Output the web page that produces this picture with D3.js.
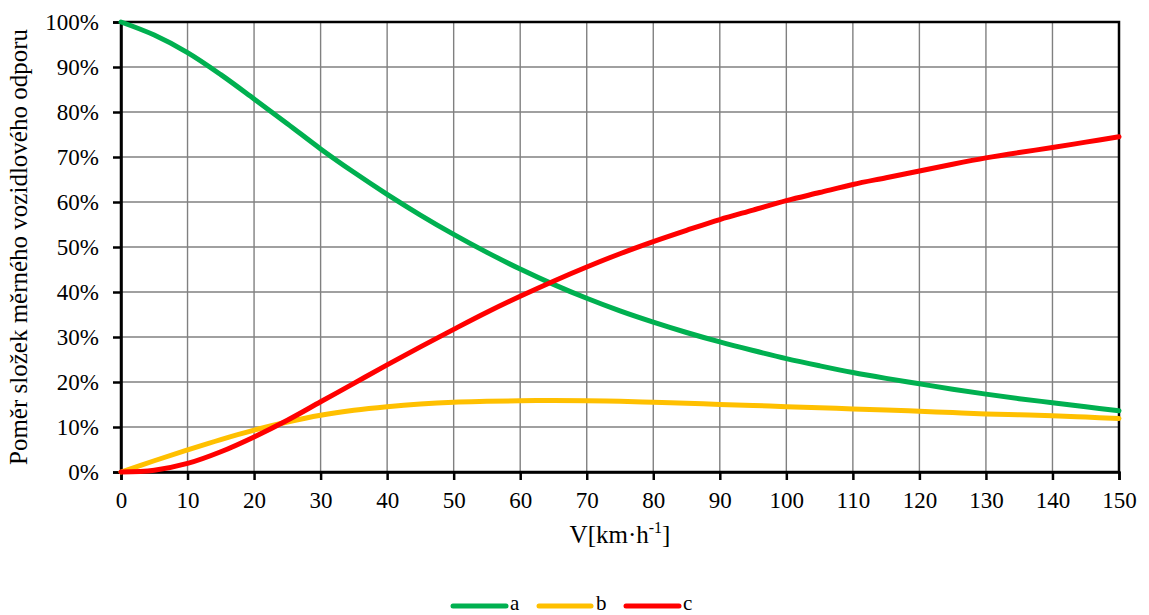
<!DOCTYPE html>
<html>
<head>
<meta charset="utf-8">
<script src="https://cdn.jsdelivr.net/npm/d3@7"></script>
<style>
  html, body { margin: 0; padding: 0; background: #fff; }
</style>
</head>
<body>
<svg id="chart" width="1149" height="615"></svg>
<script>
// Speed V [km/h]
const speeds = [0, 5, 10, 15, 20, 25, 30, 35, 40, 45, 50, 55, 60, 65, 70, 75,
                80, 85, 90, 95, 100, 105, 110, 115, 120, 125, 130, 135, 140, 145, 150];
// Share of each resistance component [%]
const seriesA = [100, 97.1, 93.2, 88.3, 82.9, 77.4, 71.8, 66.6, 61.7, 57.1, 52.8, 48.8, 45.1, 41.7, 38.6, 35.8,
                 33.3, 31.0, 28.9, 27.0, 25.2, 23.6, 22.1, 20.8, 19.6, 18.4, 17.3, 16.3, 15.4, 14.5, 13.6];
const seriesB = [0, 2.5, 4.9, 7.2, 9.3, 11.1, 12.6, 13.7, 14.5, 15.1, 15.5, 15.7, 15.85, 15.9, 15.85, 15.7,
                 15.5, 15.3, 15.0, 14.8, 14.5, 14.3, 14.0, 13.8, 13.5, 13.2, 12.9, 12.7, 12.5, 12.2, 11.9];
const seriesC = [0, 0.4, 1.9, 4.5, 7.8, 11.5, 15.6, 19.7, 23.8, 27.8, 31.7, 35.5, 39.05, 42.4, 45.55, 48.5,
                 51.2, 53.7, 56.1, 58.2, 60.3, 62.1, 63.9, 65.4, 66.9, 68.4, 69.8, 71.0, 72.1, 73.3, 74.5];
const seriesNames = ["a", "b", "c"];
const seriesColors = ["#00B050", "#FFC000", "#FF0000"];
const xTicks = d3.range(0, 151, 10);
const yTicks = d3.range(0, 101, 10);

const FONT = "Liberation Serif, Times New Roman, serif";

const svg = d3.select("#chart").attr("font-family", FONT);
const margin = { left: 121, right: 30, top: 22, bottom: 143 };
const W = 1149, H = 615;
const x = d3.scaleLinear().domain([0, 150]).range([margin.left, W - margin.right]);
const y = d3.scaleLinear().domain([0, 100]).range([H - margin.bottom, margin.top]);

// Grid
const grid = svg.append("g").attr("stroke", "#808080").attr("stroke-width", 1.4);
grid.selectAll("line.v").data(xTicks.slice(1, -1)).join("line")
  .attr("x1", d => x(d)).attr("x2", d => x(d))
  .attr("y1", y(0)).attr("y2", y(100));
grid.selectAll("line.h").data(yTicks.slice(1, -1)).join("line")
  .attr("x1", x(0)).attr("x2", x(150))
  .attr("y1", d => y(d)).attr("y2", d => y(d));

// Plot border (top, right)
svg.append("rect")
  .attr("x", x(0)).attr("y", y(100))
  .attr("width", x(150) - x(0)).attr("height", y(0) - y(100))
  .attr("fill", "none").attr("stroke", "#000").attr("stroke-width", 2.5);

// Axes
const xAxis = d3.axisBottom(x).tickValues(xTicks).tickSize(8).tickPadding(12).tickFormat(d3.format("d"));
const yAxis = d3.axisLeft(y).tickValues(yTicks).tickSize(8).tickPadding(14).tickFormat(d => d + "%");

const gx = svg.append("g").attr("transform", `translate(0,${y(0)})`).call(xAxis);
const gy = svg.append("g").attr("transform", `translate(${x(0)},0)`).call(yAxis);
[gx, gy].forEach(g => {
  g.attr("font-family", FONT).attr("font-size", 23);
  g.select(".domain").attr("stroke", "#000").attr("stroke-width", 2.5);
  g.selectAll(".tick line").attr("stroke", "#000").attr("stroke-width", 2.5);
  g.selectAll(".tick text")
    .attr("fill", "#000")
    .attr("font-family", FONT)
    .attr("font-size", 23);
});
gy.selectAll(".tick text").attr("dy", "0.33em");

// Series lines
const series = [seriesA, seriesB, seriesC];
const line = d3.line()
  .x((d, i) => x(speeds[i]))
  .y(d => y(d))
  .curve(d3.curveCatmullRom.alpha(0.5));
svg.append("g").selectAll("path").data(series).join("path")
  .attr("d", d => line(d))
  .attr("fill", "none")
  .attr("stroke", (d, i) => seriesColors[i])
  .attr("stroke-width", 5)
  .attr("stroke-linejoin", "round")
  .attr("stroke-linecap", "round");

// Axis titles
svg.append("text")
  .attr("transform", `translate(27,${(y(0) + y(100)) / 2}) rotate(-90)`)
  .attr("text-anchor", "middle")
  .attr("font-size", 25)
  .text("Poměr složek měrného vozidlového odporu");

const xt = svg.append("text")
  .attr("x", (x(0) + x(150)) / 2)
  .attr("y", 543)
  .attr("text-anchor", "middle")
  .attr("font-size", 25);
xt.append("tspan").text("V[km·h");
xt.append("tspan").attr("dy", -10).attr("font-size", 16).text("-1");
xt.append("tspan").attr("dy", 10).text("]");

// Legend
const legendItems = [
  { x0: 453, x1: 506, tx: 510 },
  { x0: 539, x1: 591, tx: 596 },
  { x0: 626, x1: 679, tx: 683 }
];
const lg = svg.append("g");
legendItems.forEach((it, i) => {
  lg.append("line")
    .attr("x1", it.x0).attr("x2", it.x1)
    .attr("y1", 606).attr("y2", 606)
    .attr("stroke", seriesColors[i]).attr("stroke-width", 5)
    .attr("stroke-linecap", "round");
  lg.append("text")
    .attr("x", it.tx).attr("y", 610)
    .attr("font-size", 21)
    .text(seriesNames[i]);
});
</script>
</body>
</html>
